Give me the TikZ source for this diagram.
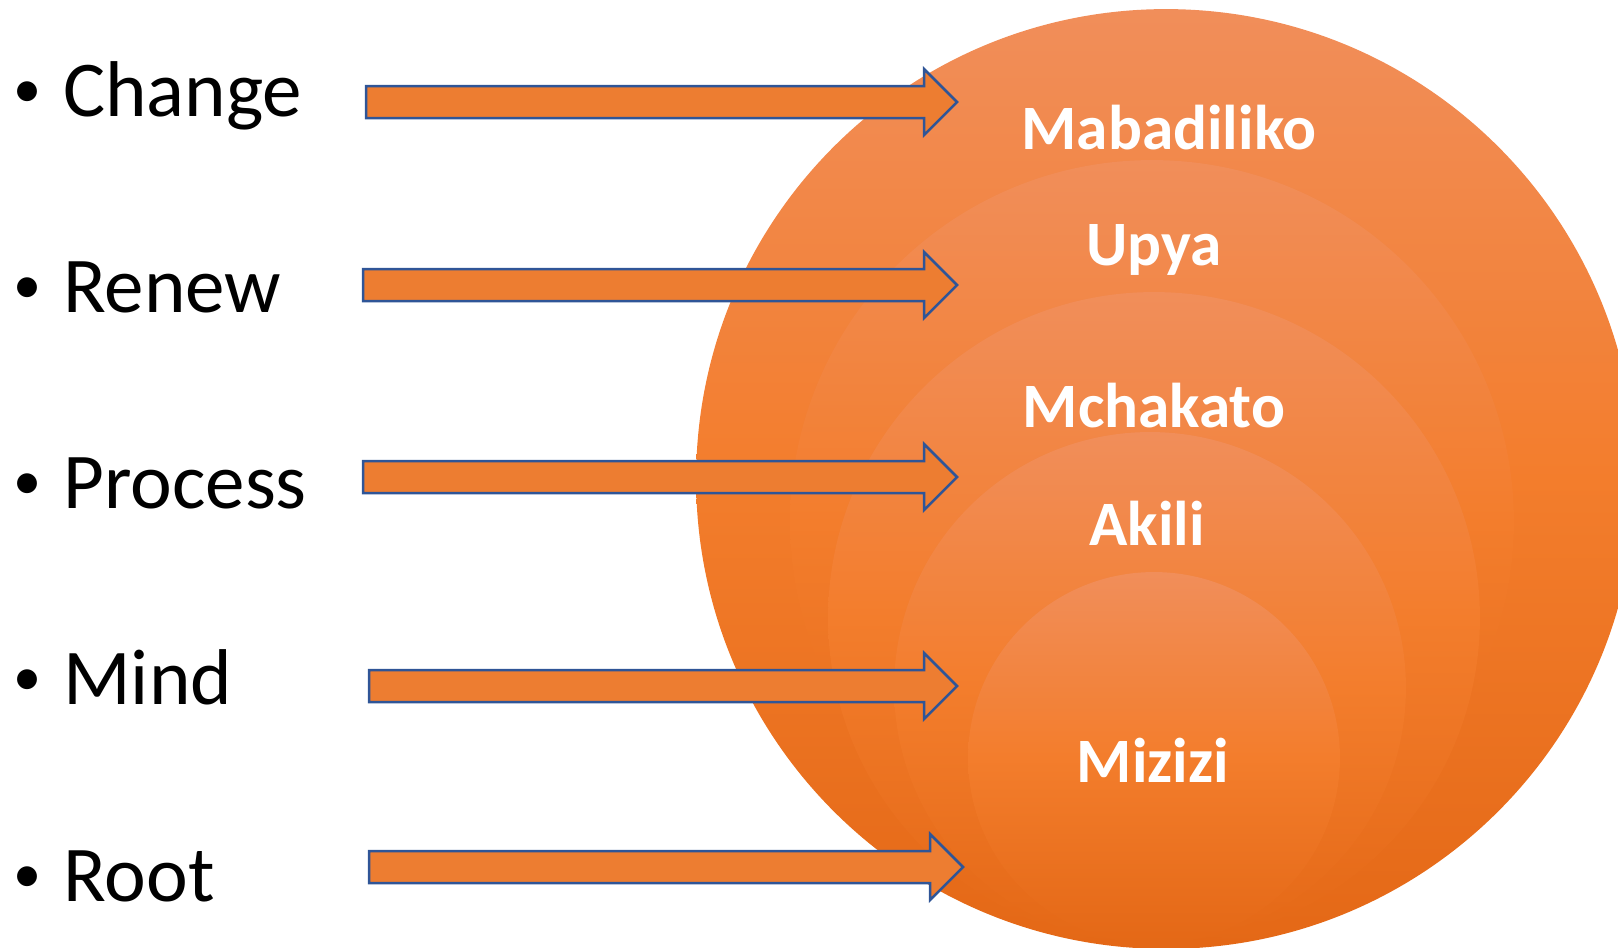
\documentclass[tikz,border=0pt]{standalone}
\usepackage{fontspec}
\setmainfont{Carlito}
\usepackage{tikz}
\usetikzlibrary{positioning, calc}
\definecolor{arroworange}{HTML}{ED7D31}
\definecolor{arrowblue}{HTML}{2F5597}
\definecolor{ringtop}{RGB}{241,142,90}
\definecolor{ringmid}{RGB}{243,125,44}
\definecolor{ringbot}{RGB}{228,104,22}
\newcommand{\dotmark}{\raisebox{0.17cm}{\fontsize{32pt}{32pt}\selectfont\textbullet}\hspace{0.44cm}}

\begin{document}
\begin{tikzpicture}[x=0.02cm, y=-0.02cm,
    ring/.style={circle, draw=none, inner sep=0pt, top color=ringtop, bottom color=ringbot, middle color=ringmid},
    word/.style={anchor=base west, inner sep=0pt, font=\fontsize{45pt}{54pt}\selectfont},
    ringtext/.style={anchor=base, inner sep=0pt, text=white, font=\fontsize{36pt}{42pt}\selectfont\bfseries},
    bigarrow/.style={draw=arrowblue, fill=arroworange, line width=0.05cm,
        to path={let \p1=(\tikztostart), \p2=(\tikztotarget) in
            (\x1,\y1+0.32cm) -- (\x2-0.66cm,\y1+0.32cm) -- (\x2-0.66cm,\y1+0.66cm) -- (\x2,\y1)
            -- (\x2-0.66cm,\y1-0.66cm) -- (\x2-0.66cm,\y1-0.32cm) -- (\x1,\y1-0.32cm) -- cycle}}]

    \useasboundingbox (0,0) rectangle (1618,947);
    \clip (0,0) rectangle (1618,947);

    %Rings
    \node[ring, minimum size=18.8cm](outer) at (1166,479){};
    \node[ring, minimum size=14.48cm](ring2) at (1152,522){};
    \node[ring, minimum size=13.04cm](ring3) at (1154,618){};
    \node[ring, minimum size=10.24cm](ring4) at (1150,688){};
    \node[ring, minimum size=7.44cm](ring5) at (1154,758){};

    %Nodes
    \node[word](change) at (13,116){\dotmark Change};
    \node[word](renew) at (13,312){\dotmark Renew};
    \node[word](process) at (13,508){\dotmark Process};
    \node[word](mind) at (13,704){\dotmark Mind};
    \node[word](root) at (13,901){\dotmark Root};

    \coordinate (tail1) at (366,102);
    \coordinate (tip1) at (957,102);
    \coordinate (tail2) at (363,285);
    \coordinate (tip2) at (957,285);
    \coordinate (tail3) at (363,477);
    \coordinate (tip3) at (957,477);
    \coordinate (tail4) at (369,686);
    \coordinate (tip4) at (957,686);
    \coordinate (tail5) at (369,867);
    \coordinate (tip5) at (963,867);

    %Lines
    \draw[bigarrow] (tail1) to (tip1);
    \draw[bigarrow] (tail2) to (tip2);
    \draw[bigarrow] (tail3) to (tip3);
    \draw[bigarrow] (tail4) to (tip4);
    \draw[bigarrow] (tail5) to (tip5);

    %Ring labels
    \node[ringtext](mabadiliko) at (1169,149){Mabadiliko};
    \node[ringtext](upya) at (1154,265){Upya};
    \node[ringtext](mchakato) at (1154,427){Mchakato};
    \node[ringtext](akili) at (1147,545){Akili};
    \node[ringtext](mizizi) at (1153,782){Mizizi};

\end{tikzpicture}
\end{document}
